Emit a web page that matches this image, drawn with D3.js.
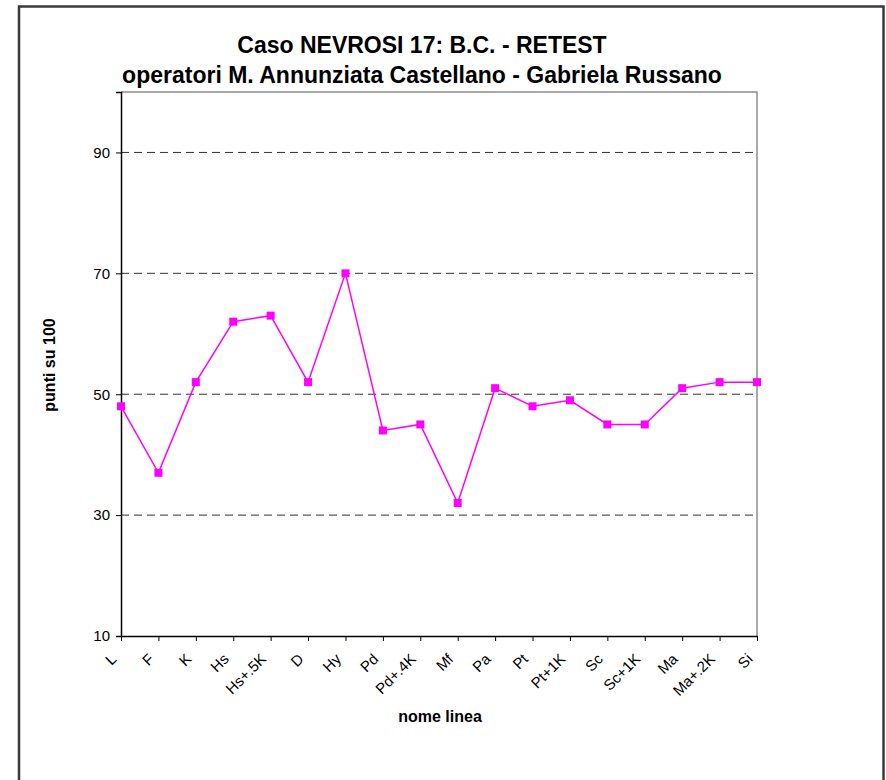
<!DOCTYPE html>
<html>
<head>
<meta charset="utf-8">
<script src="https://cdn.jsdelivr.net/npm/d3@7"></script>
<style>
  html, body { margin: 0; padding: 0; background: #fff; }
  svg { display: block; font-family: "Liberation Sans", Arial, sans-serif; }
</style>
</head>
<body>
<svg id="chart" width="886" height="780"></svg>
<script>
// Scale names and their scores (points out of 100)
const categories = ["L", "F", "K", "Hs", "Hs+.5K", "D", "Hy", "Pd", "Pd+.4K", "Mf",
                    "Pa", "Pt", "Pt+1K", "Sc", "Sc+1K", "Ma", "Ma+.2K", "Si"];
const scores = [48, 37, 52, 62, 63, 52, 70, 44, 45, 32, 51, 48, 49, 45, 45, 51, 52, 52];
const yTicks = [10, 30, 50, 70, 90];
const titleLines = ["Caso NEVROSI 17: B.C. - RETEST",
                    "operatori M. Annunziata Castellano - Gabriela Russano"];

const svg = d3.select("#chart");

// Outer chart frame
svg.append("path")
  .attr("d", "M19,790 L19,6.5 L883.5,6.5 L883.5,790")
  .attr("fill", "none").attr("stroke", "#3a3a3a").attr("stroke-width", 2.5);

const plot = { left: 121, top: 92, right: 757, bottom: 636 };

const x = d3.scalePoint().domain(categories).range([plot.left, plot.right]);
const y = d3.scaleLinear().domain([10, 100]).range([plot.bottom, plot.top]);

// Plot area border (top and right in grey)
svg.append("path")
  .attr("d", `M${plot.left},${plot.top} L${plot.right},${plot.top} L${plot.right},${plot.bottom}`)
  .attr("fill", "none").attr("stroke", "#8c8c8c").attr("stroke-width", 1.5);

// Dashed horizontal gridlines
svg.append("g").selectAll("line")
  .data(yTicks.filter(t => t !== 10))
  .join("line")
  .attr("x1", plot.left).attr("x2", plot.right)
  .attr("y1", d => y(d)).attr("y2", d => y(d))
  .attr("stroke", "#333").attr("stroke-width", 1)
  .attr("stroke-dasharray", "8,5");

// Y axis
const yAxis = svg.append("g")
  .attr("transform", `translate(${plot.left},0)`)
  .call(d3.axisLeft(y).tickValues(yTicks).tickSize(5).tickPadding(6));
yAxis.select(".domain").attr("stroke", "#000").attr("stroke-width", 1.5);
yAxis.selectAll(".tick line").attr("stroke", "#000");
yAxis.selectAll(".tick text")
  .attr("font-size", 15).attr("fill", "#000")
  .attr("font-family", "Liberation Sans, Arial, sans-serif");

// X axis with rotated labels
const xAxis = svg.append("g")
  .attr("transform", `translate(0,${plot.bottom})`)
  .call(d3.axisBottom(x).tickSize(5).tickSizeOuter(0));
xAxis.select(".domain").attr("stroke", "#000").attr("stroke-width", 1.5);
xAxis.selectAll(".tick line").attr("stroke", "#000");
xAxis.selectAll(".tick text")
  .attr("font-size", 15).attr("fill", "#000")
  .attr("font-family", "Liberation Sans, Arial, sans-serif")
  .attr("text-anchor", "end")
  .attr("dy", null)
  .attr("y", 0)
  .attr("transform", "translate(-4,24) rotate(-45)");

// Axis titles
svg.append("text")
  .attr("x", 440).attr("y", 722)
  .attr("text-anchor", "middle")
  .attr("font-size", 16).attr("font-weight", "bold")
  .text("nome linea");

svg.append("text")
  .attr("transform", "translate(55,365) rotate(-90)")
  .attr("text-anchor", "middle")
  .attr("font-size", 16).attr("font-weight", "bold")
  .text("punti su 100");

// Chart title
svg.append("g").selectAll("text")
  .data(titleLines)
  .join("text")
  .attr("x", 422).attr("y", (d, i) => 53 + i * 30)
  .attr("text-anchor", "middle")
  .attr("font-size", 23).attr("font-weight", "bold")
  .text(d => d);

// Series line and square markers
const line = d3.line()
  .x((d, i) => x(categories[i]))
  .y(d => y(d));

svg.append("path")
  .datum(scores)
  .attr("d", line)
  .attr("fill", "none").attr("stroke", "#ff00ff").attr("stroke-width", 1.5);

svg.append("g").selectAll("rect")
  .data(scores)
  .join("rect")
  .attr("x", (d, i) => x(categories[i]) - 4)
  .attr("y", d => y(d) - 4)
  .attr("width", 8).attr("height", 8)
  .attr("fill", "#ff00ff");
</script>
</body>
</html>
